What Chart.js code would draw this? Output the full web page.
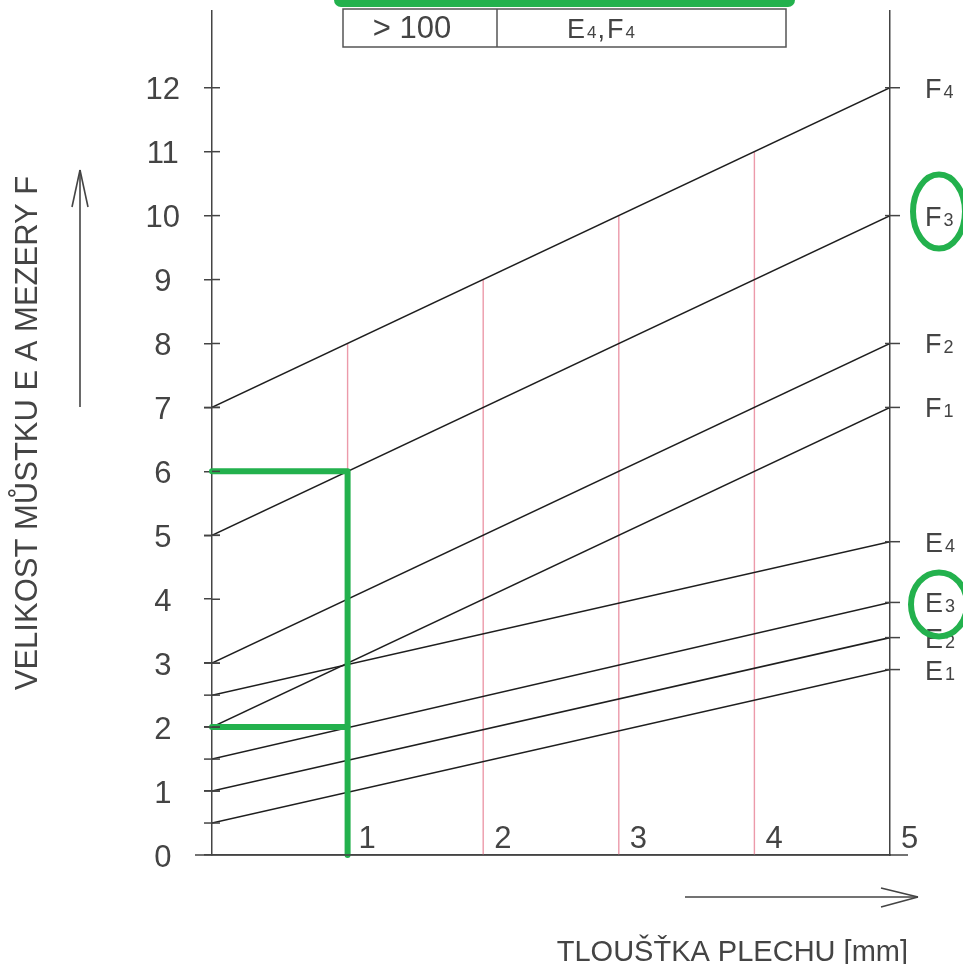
<!DOCTYPE html>
<html>
<head>
<meta charset="utf-8">
<script src="https://cdn.jsdelivr.net/npm/chart.js@4"></script>
<style>
  html, body { margin: 0; background: #fff; }
  #wrap { width: 963px; height: 964px; position: relative; }
</style>
</head>
<body>
<div id="wrap"><canvas id="c"></canvas></div>
<script>
// Bridge size E and gap size F against sheet thickness: straight-line nomogram.
const THICK = [0, 5]; // mm, every line runs across the full thickness range
const LINE_NAMES = ["F4", "F3", "F2", "F1", "E4", "E3", "E2", "E1"];
const LINE_START = [7, 5, 3, 2, 2.5, 1.5, 1, 0.5];
const LINE_END = [12, 10, 8, 7, 4.9, 3.95, 3.4, 2.9];
const Y_TICKS = [0, 1, 2, 3, 4, 5, 6, 7, 8, 9, 10, 11, 12];
const X_TICKS = [1, 2, 3, 4, 5];
const MARK_X = [1, 2, 3, 4];      // red thickness marks
const MARK_TOP = [8, 9, 10, 11];  // where each mark meets the F4 line
// worked example: 1 mm sheet -> E = 2, F = 6
const EX_T = 1, EX_E = 2, EX_F = 6;
const CIRCLED = ["F3", "E3"];
const TABLE_ROW = ["> 100", "E4,F4"];

const FONT = "'Liberation Sans', Arial, sans-serif";
const INK = "#444";
const GREEN = "#23b14d";

const datasets = [];
LINE_NAMES.forEach((name, i) => {
  datasets.push({
    label: name,
    data: [{ x: THICK[0], y: LINE_START[i] }, { x: THICK[1], y: LINE_END[i] }],
    borderColor: "#1e1e1e", borderWidth: 1.5, pointRadius: 0, order: 1,
  });
});
MARK_X.forEach((t, i) => {
  datasets.push({
    label: `mark ${t}`,
    data: [{ x: t, y: 0 }, { x: t, y: MARK_TOP[i] }],
    borderColor: "#ec9aaa", borderWidth: 1.4, pointRadius: 0, order: 2,
  });
});
datasets.push({
  label: "F example",
  data: [{ x: 0, y: EX_F }, { x: EX_T, y: EX_F }, { x: EX_T, y: 0 }],
  borderColor: GREEN, borderWidth: 6, borderCapStyle: "round", borderJoinStyle: "round",
  pointRadius: 0, order: 0, clip: false,
});
datasets.push({
  label: "E example",
  data: [{ x: 0, y: EX_E }, { x: EX_T, y: EX_E }],
  borderColor: GREEN, borderWidth: 6, borderCapStyle: "round",
  pointRadius: 0, order: 0, clip: false,
});

// letter with a small subscript digit, baseline at y; returns the end x
function subText(ctx, text, x, y, big, small) {
  for (const ch of text) {
    const isDigit = /[0-9]/.test(ch);
    ctx.font = `${isDigit ? small : big}px ${FONT}`;
    ctx.fillText(ch, x, y);
    x += ctx.measureText(ch).width + (isDigit ? 1 : 2);
  }
  return x;
}

// vertical scales: no extra room for half-labels at the ends
const noEndPadding = (s) => { s.paddingTop = 0; s.paddingBottom = 0; };

const drafting = {
  id: "drafting",
  afterDraw(chart) {
    const { ctx, chartArea: a, scales: { x, y } } = chart;
    const L = a.left, R = a.right, B = y.getPixelForValue(0);
    const seg = (x1, y1, x2, y2) => { ctx.beginPath(); ctx.moveTo(x1, y1); ctx.lineTo(x2, y2); ctx.stroke(); };
    ctx.save();
    ctx.strokeStyle = INK;
    ctx.fillStyle = INK;
    ctx.lineWidth = 1.5;

    // inner half of the axis ticks, and the end marks of every line
    Y_TICKS.forEach((v) => { if (v > 0) seg(L, y.getPixelForValue(v), L + 8, y.getPixelForValue(v)); });
    LINE_START.forEach((v) => seg(L - 8, y.getPixelForValue(v), L + 8, y.getPixelForValue(v)));
    LINE_END.forEach((v) => seg(R - 5, y.getPixelForValue(v), R + 10, y.getPixelForValue(v)));
    // base line runs past both verticals
    seg(L - 17, B, R + 18, B);

    // thickness numbers sit just above the base line
    ctx.font = `31px ${FONT}`;
    ctx.textAlign = "left";
    ctx.textBaseline = "alphabetic";
    X_TICKS.forEach((v) => ctx.fillText(String(v), x.getPixelForValue(v) + 11, B - 7));

    // line names at the right-hand ends
    LINE_NAMES.forEach((name, i) => {
      subText(ctx, name, R + 35, y.getPixelForValue(LINE_END[i]) + 10, 27, 18);
    });

    // direction arrows
    ctx.lineWidth = 1.6;
    seg(80, 407, 80, 170);
    seg(80, 170, 72, 207);
    seg(80, 170, 88, 207);
    seg(685, 897, 918, 897);
    seg(918, 897, 881, 888);
    seg(918, 897, 881, 907);

    // x-axis caption
    ctx.font = `29px ${FONT}`;
    ctx.textAlign = "right";
    ctx.fillText("TLOUŠŤKA PLECHU [mm]", 908, 961);

    // selection table row
    ctx.lineWidth = 1.5;
    ctx.strokeStyle = "#555";
    ctx.strokeRect(343, 9, 443, 38);
    seg(497, 9, 497, 47);
    ctx.font = `31px ${FONT}`;
    ctx.textAlign = "center";
    ctx.fillText(TABLE_ROW[0], 412, 38);
    ctx.textAlign = "left";
    subText(ctx, TABLE_ROW[1], 567, 38, 27, 17);

    // green highlights
    ctx.strokeStyle = GREEN;
    ctx.lineCap = "round";
    ctx.lineWidth = 14;
    seg(341, 0, 788, 0);
    ctx.lineWidth = 6;
    const rings = { F3: { rx: 26, ry: 37, dy: -4 }, E3: { rx: 28, ry: 32, dy: 2 } };
    CIRCLED.forEach((name) => {
      const i = LINE_NAMES.indexOf(name);
      const r = rings[name];
      const cy = y.getPixelForValue(LINE_END[i]) + r.dy;
      ctx.beginPath();
      ctx.ellipse(R + 49, cy, r.rx, r.ry, 0, 0, Math.PI * 2);
      ctx.stroke();
    });
    ctx.restore();
  },
};

new Chart(document.getElementById("c"), {
  type: "line",
  data: { datasets },
  options: {
    responsive: true, maintainAspectRatio: false, animation: false,
    layout: { padding: { top: 11, left: 0, right: 0, bottom: 0 } },
    plugins: { legend: { display: false }, tooltip: { enabled: false } },
    scales: {
      x: {
        type: "linear", min: 0, max: 5,
        afterFit: (s) => { s.height = 109; s.paddingLeft = 0; s.paddingRight = 0; },
        border: { display: true, color: INK, width: 1.5 },
        grid: { display: false },
        ticks: { display: false },
      },
      y: {
        min: 0, max: 13.2,
        afterBuildTicks: (s) => { s.ticks = Y_TICKS.map((v) => ({ value: v })); },
        afterFit: (s) => { s.width = 212; noEndPadding(s); },
        border: { display: true, color: INK, width: 1.5 },
        grid: { drawOnChartArea: false, drawTicks: true, tickLength: 8, color: INK, lineWidth: 1.5 },
        ticks: {
          autoSkip: false, crossAlign: "center", padding: 24, labelOffset: 3,
          color: INK, font: { family: FONT, size: 31 },
        },
        title: {
          display: true, text: "VELIKOST MŮSTKU E A MEZERY F", color: INK,
          font: { family: FONT, size: 31 }, padding: { top: 10, bottom: 0 },
        },
      },
      y2: {
        position: "right", min: 0, max: 13.2,
        afterFit: (s) => { s.width = 73; noEndPadding(s); },
        border: { display: true, color: INK, width: 1.5 },
        grid: { display: false },
        ticks: { display: false },
      },
    },
  },
  plugins: [drafting],
});
</script>
</body>
</html>
